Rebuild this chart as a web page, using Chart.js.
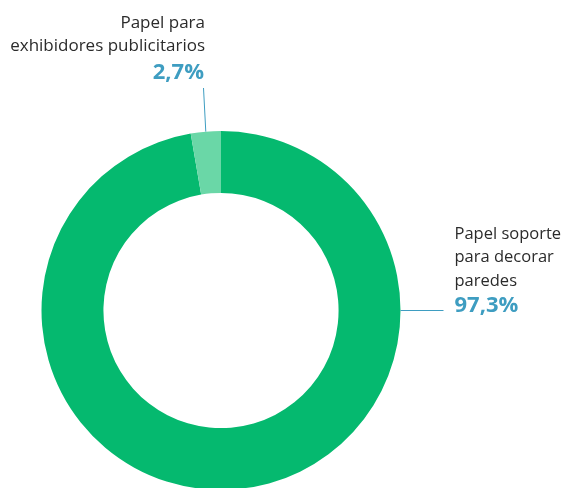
<!DOCTYPE html>
<html>
<head>
<meta charset="utf-8">
<script src="https://cdn.jsdelivr.net/npm/chart.js@4/dist/chart.umd.min.js"></script>
<style>
  html, body { margin: 0; padding: 0; background: #fff; overflow: hidden; }
  #wrap { position: relative; width: 562px; height: 490px; }
</style>
</head>
<body>
<div id="wrap"><canvas id="chart"></canvas></div>
<script>
// datos
const categories = ['Papel soporte para decorar paredes', 'Papel para exhibidores publicitarios'];
const shares = [97.3, 2.7];
const shareLabels = ['97,3%', '2,7%'];
const labelLines = [['Papel soporte', 'para decorar', 'paredes'], ['Papel para', 'exhibidores publicitarios']];
const colors = ['#05B96F', '#6AD7A7'];

const TEXT = '#2b2b2b';
const BLUE = '#3E9DC1';
const FONT = '"Open Sans", "Noto Sans", sans-serif';

// etiquetas con líneas guía
const calloutPlugin = {
  id: 'callouts',
  afterDraw(chart) {
    const ctx = chart.ctx;
    const arcs = chart.getDatasetMeta(0).data;
    const cx = arcs[0].x, cy = arcs[0].y, r = arcs[0].outerRadius;

    ctx.save();
    ctx.strokeStyle = BLUE;
    ctx.lineWidth = 1;

    // segmento pequeño: línea hacia arriba desde el centro del arco
    const a1 = (arcs[1].startAngle + arcs[1].endAngle) / 2;
    const x1 = cx + Math.cos(a1) * r, y1 = cy + Math.sin(a1) * r;
    ctx.beginPath();
    ctx.moveTo(x1, y1);
    ctx.lineTo(cx - 17.5, cy - 222.5);
    ctx.stroke();

    ctx.textAlign = 'right';
    ctx.textBaseline = 'alphabetic';
    ctx.fillStyle = TEXT;
    ctx.font = '17px ' + FONT;
    const tx = cx - 16;
    labelLines[1].forEach((t, i) => ctx.fillText(t, tx, cy - 283 + i * 23.7));
    ctx.fillStyle = BLUE;
    ctx.font = 'bold 22px ' + FONT;
    ctx.fillText(shareLabels[1], tx - 1, cy - 232);

    // segmento grande: línea horizontal a la derecha
    ctx.beginPath();
    ctx.moveTo(cx + r, cy);
    ctx.lineTo(cx + r + 43, cy);
    ctx.stroke();

    ctx.textAlign = 'left';
    ctx.fillStyle = TEXT;
    ctx.font = '16.5px ' + FONT;
    const rx = cx + r + 54;
    labelLines[0].forEach((t, i) => ctx.fillText(t, rx, cy - 72 + i * 23.5));
    ctx.fillStyle = BLUE;
    ctx.font = 'bold 22px ' + FONT;
    ctx.fillText(shareLabels[0], rx, cy + 1.5);
    ctx.restore();
  }
};

new Chart(document.getElementById('chart'), {
  type: 'doughnut',
  data: {
    labels: categories,
    datasets: [{
      data: shares,
      backgroundColor: colors,
      borderWidth: 0,
      hoverOffset: 0
    }]
  },
  options: {
    responsive: true,
    maintainAspectRatio: false,
    animation: false,
    cutout: '65.5%',
    layout: { padding: { left: 41.5, right: 161.5, top: 131, bottom: 0 } },
    plugins: {
      legend: { display: false },
      tooltip: { enabled: false }
    }
  },
  plugins: [calloutPlugin]
});
</script>
</body>
</html>
